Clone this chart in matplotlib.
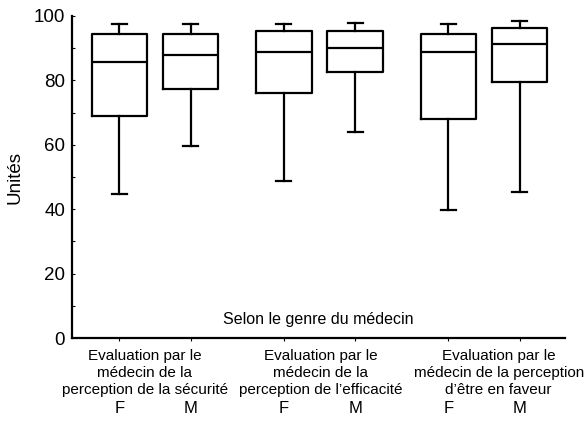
import matplotlib
matplotlib.use('Agg')
import matplotlib.pyplot as plt
from matplotlib.ticker import MultipleLocator
import matplotlib.transforms as mtransforms

plt.rcParams['font.family'] = ['Liberation Sans', 'DejaVu Sans']

# values (F, M for each evaluation)
groups = ["Evaluation par le\nmédecin de la\nperception de la sécurité",
          "Evaluation par le\nmédecin de la\nperception de l\u2019efficacité",
          "Evaluation par le\nmédecin de la perception\nd\u2019être en faveur"]
genders = ['F', 'M']
whis_low = [44.6, 59.5, 48.8, 64.1, 39.8, 45.2]
q1 = [68.9, 77.4, 76.2, 82.7, 67.9, 79.5]
median = [85.8, 87.9, 88.9, 90.0, 88.9, 91.2]
q3 = [94.3, 94.3, 95.3, 95.3, 94.3, 96.4]
whis_high = [97.4, 97.4, 97.4, 97.9, 97.4, 98.6]

stats = []
for i in range(len(median)):
    stats.append({'whislo': whis_low[i], 'q1': q1[i], 'med': median[i],
                  'q3': q3[i], 'whishi': whis_high[i], 'fliers': []})

# box positions: pairs inside each group
positions = []
for g in range(len(groups)):
    for k in range(len(genders)):
        positions.append(0.66 + g * 2.285 + k * 0.99)

fig = plt.figure(figsize=(5.88, 4.21), dpi=100)
ax = fig.add_axes([0.1224, 0.197, 0.8384, 0.765])

lw = 1.6
ax.bxp(stats, positions=positions, widths=0.77, showfliers=False,
       boxprops=dict(color='black', linewidth=lw),
       medianprops=dict(color='black', linewidth=lw),
       whiskerprops=dict(color='black', linewidth=lw),
       capprops=dict(color='black', linewidth=lw),
       capwidths=0.21, manage_ticks=False)

ax.set_xlim(0, 6.85)
ax.set_ylim(0, 100)
ax.spines['top'].set_visible(False)
ax.spines['right'].set_visible(False)
ax.spines['left'].set_linewidth(1.6)
ax.spines['bottom'].set_linewidth(1.6)

ax.yaxis.set_major_locator(MultipleLocator(20))
ax.yaxis.set_minor_locator(MultipleLocator(10))
ax.tick_params(axis='y', which='both', direction='in', length=2.5, width=0.8,
               labelsize=13.5, pad=5)
ax.set_ylabel('Unités', fontsize=13.5, labelpad=7)

ax.set_xticks(positions)
ax.set_xticklabels(genders * len(groups), fontsize=12)
ax.tick_params(axis='x', direction='out', length=2.5, width=0.8, pad=43)

ax.text(0.5, 0.035, 'Selon le genre du médecin', transform=ax.transAxes,
        ha='center', va='bottom', fontsize=11.5)

trans = mtransforms.blended_transform_factory(ax.transData, ax.transAxes)
label_x = [1.01, 3.46, 5.93]
for x, lab in zip(label_x, groups):
    ax.text(x, -0.035, lab, transform=trans, ha='center', va='top',
            fontsize=11, linespacing=1.25)

fig.savefig('out.png', dpi=100)
